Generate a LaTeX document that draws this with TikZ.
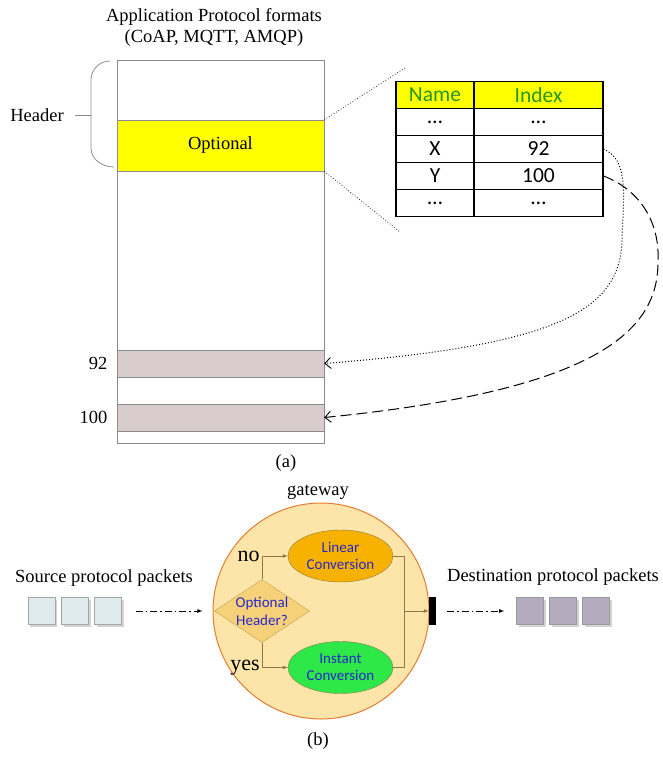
\documentclass[tikz,border=0pt]{standalone}
\usepackage{fontspec}
\setmainfont{Liberation Serif}
\newfontfamily\calfont{Carlito}
\usetikzlibrary{%
  arrows,%
  arrows.meta,%
  calc,%
  shapes.geometric,%
  shadows%
}
\tikzset{>=latex}
\definecolor{optyellow}{RGB}{255,255,0}
\definecolor{hdgreen}{RGB}{40,150,30}
\definecolor{bandgray}{RGB}{217,204,204}
\definecolor{gwfill}{RGB}{253,228,168}
\definecolor{gwline}{RGB}{225,125,50}
\definecolor{qfill}{RGB}{247,208,122}
\definecolor{qline}{RGB}{190,160,80}
\definecolor{linfill}{RGB}{247,177,0}
\definecolor{insfill}{RGB}{46,232,74}
\definecolor{txtblue}{RGB}{40,40,200}
\definecolor{flowline}{RGB}{140,122,69}
\definecolor{srcfill}{RGB}{221,235,238}
\definecolor{dstfill}{RGB}{180,172,190}
\tikzset{
  band/.style={draw=gray!90,minimum width=207pt,inner sep=0pt},
  cell/.style={draw=black,line width=1.1pt,minimum height=27pt,inner sep=0pt,
    font=\calfont\fontsize{21.5}{24}\selectfont},
  inner/.style={inner sep=0pt,align=center,text=txtblue,
    font=\calfont\fontsize{15}{17}\selectfont},
  conv/.style={ellipse,draw=flowline,minimum width=105pt,minimum height=52pt,inner/.try},
  flow/.style={draw=flowline,line width=0.7pt},
  packet/.style={minimum size=27pt,inner sep=0pt,line width=0.6pt,
    drop shadow={shadow xshift=2pt,shadow yshift=-2pt,opacity=0.35}},
  dd/.style={->,line width=0.8pt,dash pattern=on 7pt off 3pt on 1.5pt off 3pt},
  barb/.style={-{Straight Barb[length=6pt,width=11pt,line width=0.9pt]}}
}
\begin{document}
\begin{tikzpicture}[x=1pt,y=-1pt,font=\fontsize{18.5}{21}\selectfont]
\useasboundingbox (0,0) rectangle (662,761);
% (a) protocol format
\node[align=center] (title) at (214,27.5) {Application Protocol formats\\(CoAP, MQTT, AMQP)};
\node[draw=gray!90,fill=white,minimum width=207pt,minimum height=383pt,inner sep=0pt] (frame) at (220.5,251.5) {};
\node[band,fill=optyellow,minimum height=51pt] (opt) at (220.5,145.5) {Optional};
\node[band,fill=bandgray,minimum height=27pt] (band92) at (220.5,363.5) {};
\node[band,fill=bandgray,minimum height=27pt] (band100) at (220.5,417.5) {};
\node[left=6pt] (l92) at (band92.west) {92};
\node[left=6pt] (l100) at (band100.west) {100};
\node (hdr) at (37,115) {Header};
\draw[gray!90,line width=0.8pt] (110,61) to[out=180,in=90] (91,80) -- (91,148)
  to[out=-90,in=180] (114,167);
\draw[gray!90,line width=0.8pt] (hdr.east) ++(8,0) -- (91,115);
% zoomed header table
\node[cell,fill=optyellow,text=hdgreen,minimum width=78pt] (n0) at (435,95) {Name};
\node[cell,fill=optyellow,text=hdgreen,minimum width=129pt] (i0) at (538.5,95) {Index};
\foreach \k/\a/\b in {1/\dots/\dots,2/X/92,3/Y/100,4/\dots/\dots}{
  \node[cell,minimum width=78pt] (n\k) at (435,95+27*\k) {\a};
  \node[cell,minimum width=129pt] (i\k) at (538.5,95+27*\k) {\b};
}
\coordinate (zt) at (405,68);
\coordinate (zb) at (400,232);
\draw[dotted,gray!40!black,line width=0.8pt] (opt.north east) -- (zt);
\draw[dotted,gray!40!black,line width=0.8pt] (opt.south east) -- (zb);
\draw[dotted,line width=1pt,barb] (i2.east) .. controls (628,160) and (624,190) .. (622,240)
  .. controls (620,310) and (560,345) .. (band92.east);
\draw[dash pattern=on 11pt off 5pt,line width=1pt,barb] (i3.east) .. controls (640,190) and (660,222) .. (658,262)
  .. controls (658,330) and (600,390) .. (band100.east);
\node (capa) at (286,463) {(a)};
% (b) gateway
\node (gwl) at (318,492) {gateway};
\node[circle,draw=gwline,fill=gwfill,line width=1pt,minimum size=216pt,inner sep=0pt] (gw) at (321,611) {};
\node[diamond,draw=qline,fill=qfill,minimum width=95pt,minimum height=63pt,inner sep=0pt] (q) at (262,611) {};
\node[inner,font=\calfont\fontsize{15}{18}\selectfont] (qt) at (q) {Optional\\Header?};
\node[conv,fill=linfill] (lin) at (340.5,556) {Linear\\Conversion};
\node[conv,fill=insfill] (ins) at (340.5,667.5) {Instant\\Conversion};
\node[fill=black,minimum width=7pt,minimum height=28pt,inner sep=0pt] (bar) at (432.5,611) {};
\coordinate (j) at (404,611);
\draw[flow,->] (q.north) |- node[left,inner sep=2pt,font=\fontsize{22}{24}\selectfont] {no} (lin.west);
\draw[flow,->] (q.south) |- node[left,inner sep=2pt,font=\fontsize{22}{24}\selectfont] {yes} (ins.west);
\draw[flow] (lin.east) -| (j);
\draw[flow] (ins.east) -| (j);
\draw[flow,->] (j) -- (bar.west);
% packets
\node (src) at (104,578) {Source protocol packets};
\foreach \k/\x in {1/41.5,2/75,3/108}
  \node[packet,draw=gray!70,fill=srcfill] (s\k) at (\x,611) {};
\node (dst) at (553,577) {Destination protocol packets};
\foreach \k/\x in {1/530,2/563,3/596}
  \node[packet,draw=gray!80,fill=dstfill] (d\k) at (\x,611) {};
\draw[dd,shorten <=14pt,shorten >=10pt] (s3.east) -- (gw.west);
\draw[dd,shorten <=11pt,shorten >=12pt] (bar.east) -- (d1.west);
\node (capb) at (318,741) {(b)};
\end{tikzpicture}
\end{document}
